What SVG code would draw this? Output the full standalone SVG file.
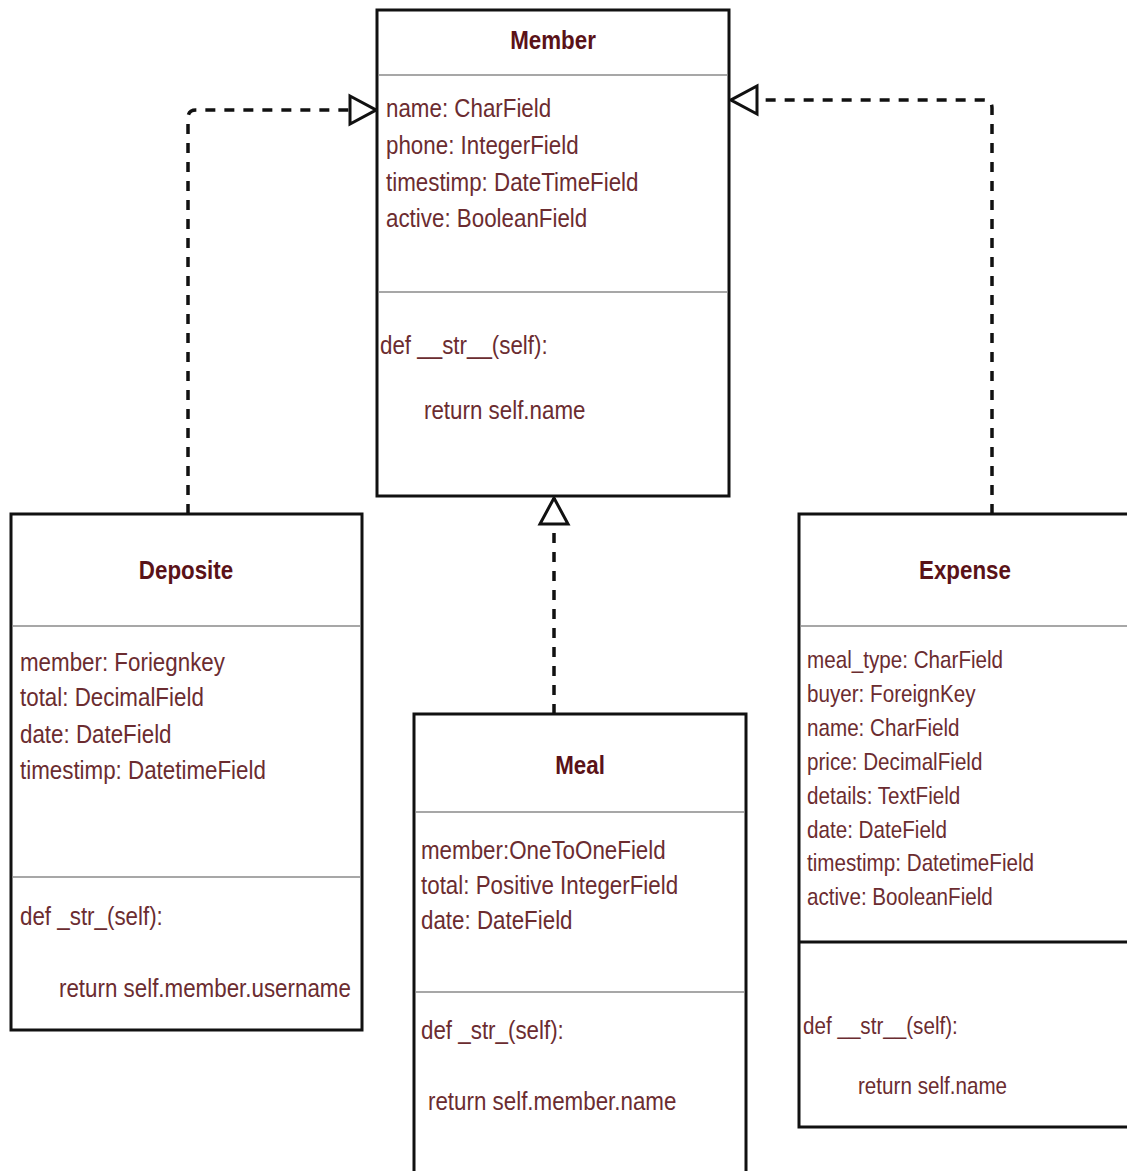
<svg xmlns="http://www.w3.org/2000/svg" width="1127" height="1171" viewBox="0 0 1127 1171">
<style>
.box{fill:#fff;stroke:#111;stroke-width:3}
.div{stroke:#8a8a8a;stroke-width:1.5}
.divb{stroke:#111;stroke-width:3}
.t{font-family:"Liberation Sans",Arial,sans-serif;font-weight:bold;font-size:26px;fill:#5a1218;text-anchor:middle}
.f{font-family:"Liberation Sans",Arial,sans-serif;font-size:26px;fill:#6b2c30}
.fs{font-family:"Liberation Sans",Arial,sans-serif;font-size:24px;fill:#6b2c30}
.dash{fill:none;stroke:#111;stroke-width:3.5;stroke-dasharray:10 9;marker-end:url(#tri)}
</style>
<defs>
<marker id="tri" markerUnits="userSpaceOnUse" viewBox="0 0 30 34" refX="28" refY="17" markerWidth="30" markerHeight="34" orient="auto">
<path d="M2,3 L28,17 L2,31 Z" fill="#fff" stroke="#111" stroke-width="3" stroke-linejoin="miter"/>
</marker>
</defs>
<rect width="1127" height="1171" fill="#fff"/>
<g id="connectors">
<path class="dash" d="M188,514 L188,118 Q188,110 196,110 L376,110"/>
<path class="dash" d="M992,514 L992,108 Q992,100 984,100 L731,100"/>
<path class="dash" d="M554,714 L554,498"/>
</g>
<g id="member">
<rect class="box" x="377" y="10" width="352" height="486"/>
<line class="div" x1="378" y1="75" x2="728" y2="75"/>
<line class="div" x1="378" y1="292" x2="728" y2="292"/>
<text class="t" transform="translate(553,49) scale(0.86,1)">Member</text>
<text class="f" transform="translate(386,117) scale(0.86,1)">name: CharField</text>
<text class="f" transform="translate(386,154) scale(0.86,1)">phone: IntegerField</text>
<text class="f" transform="translate(386,191) scale(0.86,1)">timestimp: DateTimeField</text>
<text class="f" transform="translate(386,227) scale(0.86,1)">active: BooleanField</text>
<text class="f" transform="translate(380,354) scale(0.86,1)">def __str__(self):</text>
<text class="f" transform="translate(424,419) scale(0.86,1)">return self.name</text>
</g>
<g id="deposite">
<rect class="box" x="11" y="514" width="351" height="516"/>
<line class="div" x1="12" y1="626" x2="361" y2="626"/>
<line class="div" x1="12" y1="877" x2="361" y2="877"/>
<text class="t" transform="translate(186,579) scale(0.86,1)">Deposite</text>
<text class="f" transform="translate(20,671) scale(0.86,1)">member: Foriegnkey</text>
<text class="f" transform="translate(20,706) scale(0.86,1)">total: DecimalField</text>
<text class="f" transform="translate(20,743) scale(0.86,1)">date: DateField</text>
<text class="f" transform="translate(20,779) scale(0.86,1)">timestimp: DatetimeField</text>
<text class="f" transform="translate(20,925) scale(0.86,1)">def _str_(self):</text>
<text class="f" transform="translate(59,997) scale(0.86,1)">return self.member.username</text>
</g>
<g id="meal">
<rect class="box" x="414" y="714" width="332" height="470"/>
<line class="div" x1="415" y1="812" x2="745" y2="812"/>
<line class="div" x1="415" y1="992" x2="745" y2="992"/>
<text class="t" transform="translate(580,774) scale(0.86,1)">Meal</text>
<text class="f" transform="translate(421,859) scale(0.86,1)">member:OneToOneField</text>
<text class="f" transform="translate(421,894) scale(0.86,1)">total: Positive IntegerField</text>
<text class="f" transform="translate(421,929) scale(0.86,1)">date: DateField</text>
<text class="f" transform="translate(421,1039) scale(0.86,1)">def _str_(self):</text>
<text class="f" transform="translate(428,1110) scale(0.86,1)">return self.member.name</text>
</g>
<g id="expense">
<rect class="box" x="799" y="514" width="340" height="613"/>
<line class="div" x1="800" y1="626" x2="1127" y2="626"/>
<line class="divb" x1="800" y1="942" x2="1127" y2="942"/>
<text class="t" transform="translate(965,579) scale(0.86,1)">Expense</text>
<text class="fs" transform="translate(807,668) scale(0.86,1)">meal_type: CharField</text>
<text class="fs" transform="translate(807,702) scale(0.86,1)">buyer: ForeignKey</text>
<text class="fs" transform="translate(807,736) scale(0.86,1)">name: CharField</text>
<text class="fs" transform="translate(807,770) scale(0.86,1)">price: DecimalField</text>
<text class="fs" transform="translate(807,804) scale(0.86,1)">details: TextField</text>
<text class="fs" transform="translate(807,838) scale(0.86,1)">date: DateField</text>
<text class="fs" transform="translate(807,871) scale(0.86,1)">timestimp: DatetimeField</text>
<text class="fs" transform="translate(807,905) scale(0.86,1)">active: BooleanField</text>
<text class="fs" transform="translate(803,1034) scale(0.86,1)">def __str__(self):</text>
<text class="fs" transform="translate(858,1094) scale(0.86,1)">return self.name</text>
</g>
</svg>
